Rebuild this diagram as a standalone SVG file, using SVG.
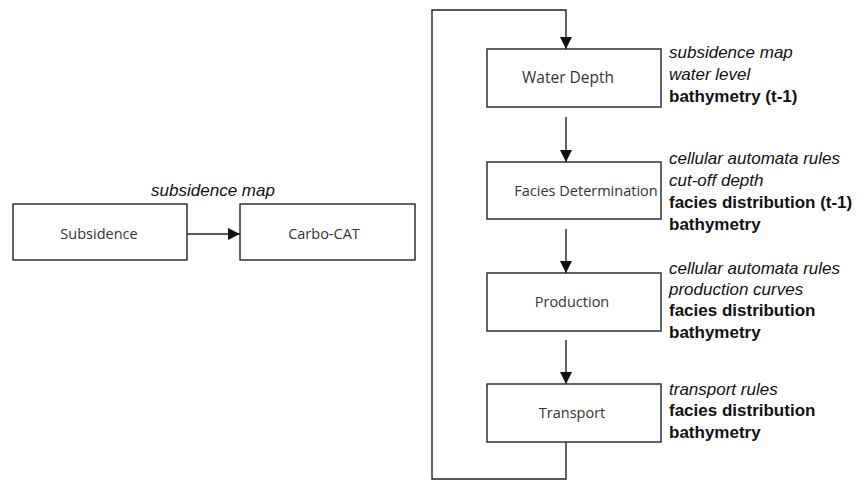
<svg xmlns="http://www.w3.org/2000/svg" width="858" height="481" viewBox="0 0 858 481">
  <style>
    .box { fill: #ffffff; stroke: #222222; stroke-width: 1.4; }
    .lbl { font-family: "Open Sans", "Noto Sans", "Liberation Sans", sans-serif; font-size: 14.5px; fill: #333333; text-anchor: middle; }
    .note { font-family: "Liberation Sans", Arial, sans-serif; font-size: 17px; fill: #111111; }
    .it { font-style: italic; }
    .b { font-weight: bold; }
    .wire { fill: none; stroke: #222222; stroke-width: 1.4; }
  </style>
  <defs>
    <marker id="head" viewBox="0 0 12 12" refX="12" refY="6" markerWidth="12" markerHeight="12" markerUnits="userSpaceOnUse" orient="auto">
      <path d="M0,0 L12,6 L0,12 Z" fill="#111111"/>
    </marker>
  </defs>
  <rect width="858" height="481" fill="#ffffff"/>

  <!-- connectors -->
  <g id="connectors">
    <line class="wire" x1="187" y1="234" x2="240" y2="234" marker-end="url(#head)"/>
    <polyline class="wire" points="566,442 566,479 432,479 432,10 566,10 566,49" marker-end="url(#head)"/>
    <line class="wire" x1="566" y1="117" x2="566" y2="162" marker-end="url(#head)"/>
    <line class="wire" x1="566" y1="229" x2="566" y2="273" marker-end="url(#head)"/>
    <line class="wire" x1="566" y1="340" x2="566" y2="384" marker-end="url(#head)"/>
  </g>

  <!-- left chain -->
  <g id="subsidence">
    <rect class="box" x="13" y="204" width="174" height="56"/>
    <text class="lbl" x="99" y="239">Subsidence</text>
  </g>
  <text class="note it" x="213" y="196" text-anchor="middle">subsidence map</text>
  <g id="carbocat">
    <rect class="box" x="240" y="204" width="175" height="56"/>
    <text class="lbl" x="324" y="239">Carbo-CAT</text>
  </g>

  <!-- time-step loop -->
  <g id="water-depth">
    <rect class="box" x="487" y="49" width="174" height="58"/>
    <text class="lbl" x="568" y="83" style="font-size:15.5px">Water Depth</text>
    <text class="note" x="669">
      <tspan class="it" x="669" y="58">subsidence map</tspan>
      <tspan class="it" x="669" y="80">water level</tspan>
      <tspan class="b" x="669" y="102">bathymetry (t-1)</tspan>
    </text>
  </g>

  <g id="facies-determination">
    <rect class="box" x="487" y="162" width="174" height="57"/>
    <text class="lbl" x="586" y="196">Facies Determination</text>
    <text class="note" x="669">
      <tspan class="it" x="669" y="164">cellular automata rules</tspan>
      <tspan class="it" x="669" y="186">cut-off depth</tspan>
      <tspan class="b" x="669" y="208">facies distribution (t-1)</tspan>
      <tspan class="b" x="669" y="230">bathymetry</tspan>
    </text>
  </g>

  <g id="production">
    <rect class="box" x="487" y="273" width="174" height="58"/>
    <text class="lbl" x="572" y="307">Production</text>
    <text class="note" x="669">
      <tspan class="it" x="669" y="274">cellular automata rules</tspan>
      <tspan class="it" x="669" y="295">production curves</tspan>
      <tspan class="b" x="669" y="316">facies distribution</tspan>
      <tspan class="b" x="669" y="338">bathymetry</tspan>
    </text>
  </g>

  <g id="transport">
    <rect class="box" x="487" y="384" width="174" height="58"/>
    <text class="lbl" x="572" y="418">Transport</text>
    <text class="note" x="669">
      <tspan class="it" x="669" y="395">transport rules</tspan>
      <tspan class="b" x="669" y="416">facies distribution</tspan>
      <tspan class="b" x="669" y="438">bathymetry</tspan>
    </text>
  </g>
</svg>
